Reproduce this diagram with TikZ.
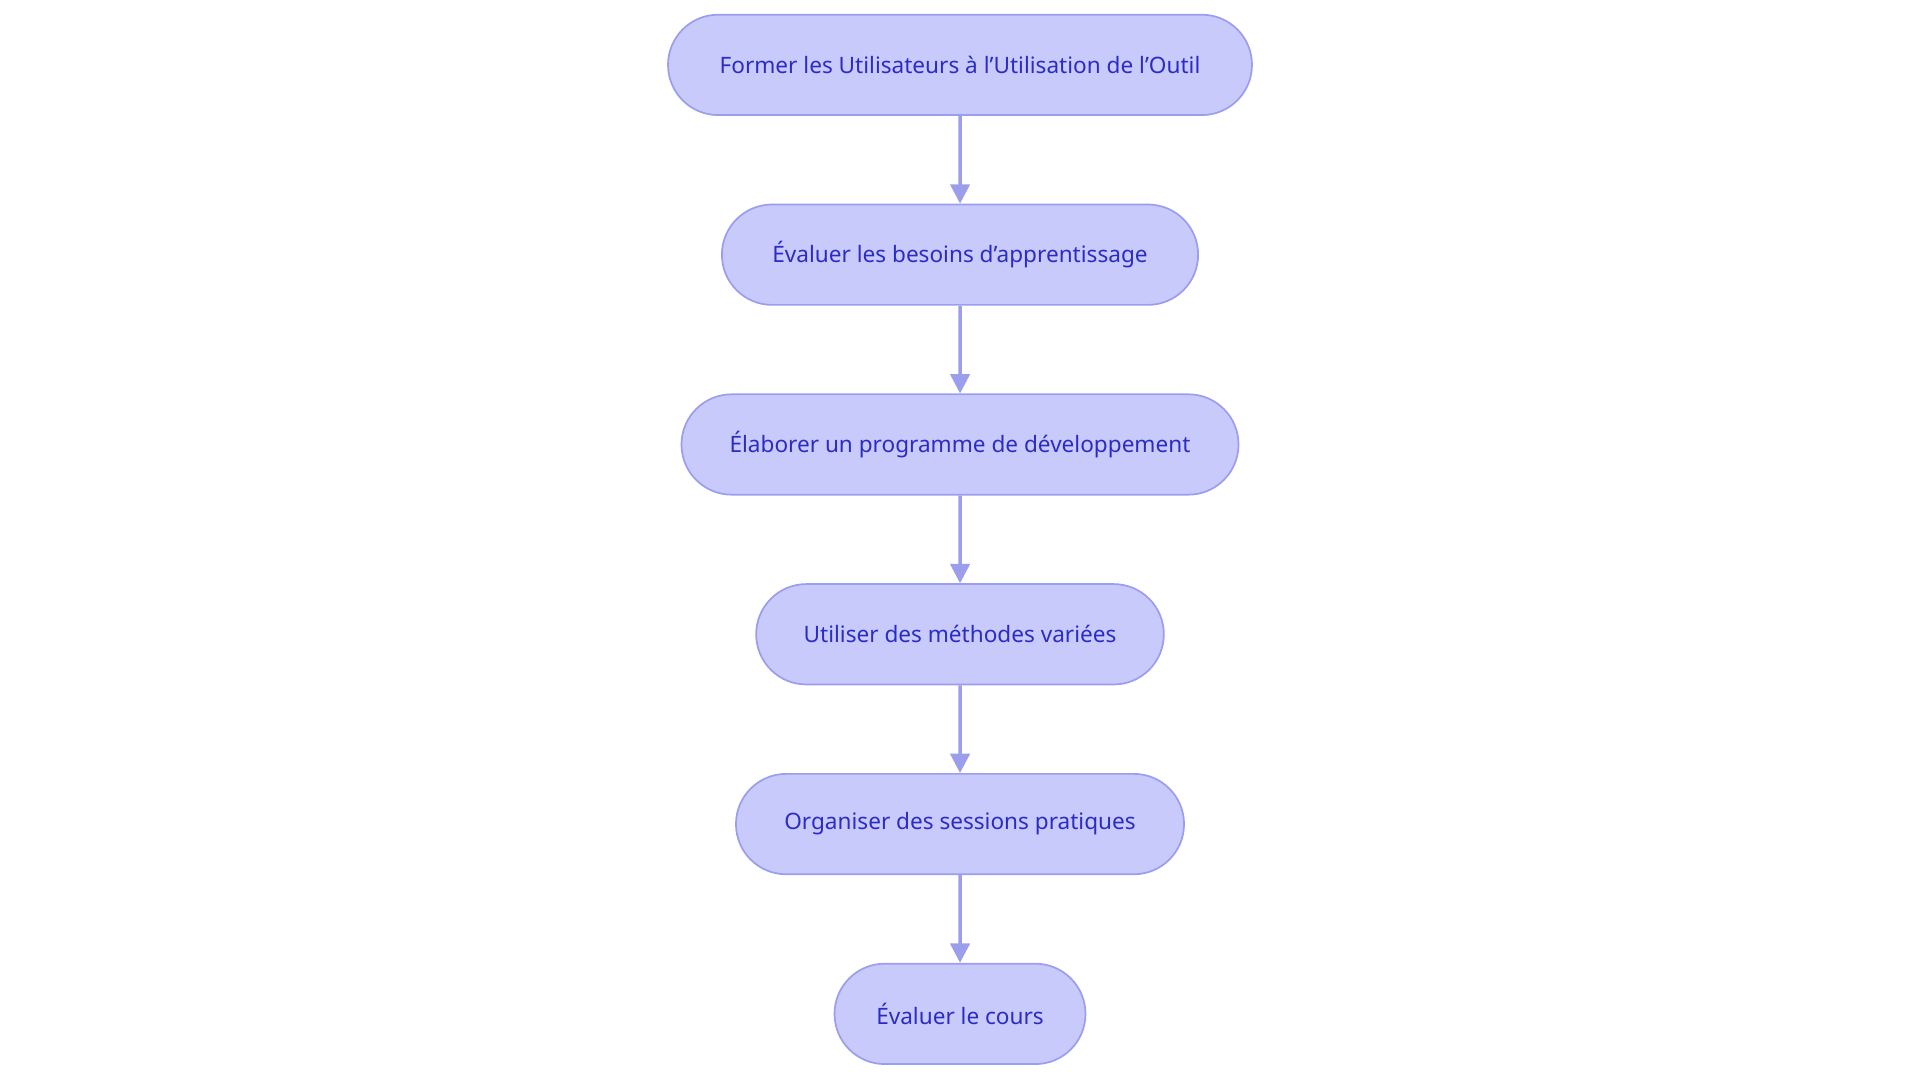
\documentclass[tikz,border=0pt]{standalone}
\usepackage{fontspec}
\setmainfont{Noto Sans}
\usetikzlibrary{shapes.misc, arrows.meta}
\definecolor{stepfill}{HTML}{C9CAFC}
\definecolor{stepline}{HTML}{9B9DED}
\definecolor{steptext}{HTML}{2B2CC4}

\begin{document}
\begin{tikzpicture}[
    x=0.02cm, y=-0.02cm,
    stepbox/.style={rounded rectangle, draw=stepline, fill=stepfill, text=steptext,
        line width=0.8pt, minimum height=1.64cm, inner sep=0pt, font=\fontsize{10.5}{12}\selectfont},
    flow/.style={draw=stepline, line width=1.6pt, -{Triangle[length=9pt, width=9pt]}},
]

  % frame of the picture
  \useasboundingbox (0,0) rectangle (1568,884);

  % steps
  \node[stepbox, minimum width=9.54cm] (former) at (784,53) {Former les Utilisateurs à l'Utilisation de l'Outil};
  \node[stepbox, minimum width=7.78cm] (besoins) at (784,208) {Évaluer les besoins d'apprentissage};
  \node[stepbox, minimum width=9.10cm] (programme) at (784,363) {Élaborer un programme de développement};
  \node[stepbox, minimum width=6.66cm] (methodes) at (784,518) {Utiliser des méthodes variées};
  \node[stepbox, minimum width=7.32cm] (sessions) at (784,673) {Organiser des sessions pratiques};
  \node[stepbox, minimum width=4.10cm] (cours) at (784,828) {Évaluer le cours};

  % connectors
  \draw[flow] (former) -- (besoins);
  \draw[flow] (besoins) -- (programme);
  \draw[flow] (programme) -- (methodes);
  \draw[flow] (methodes) -- (sessions);
  \draw[flow] (sessions) -- (cours);

\end{tikzpicture}
\end{document}
